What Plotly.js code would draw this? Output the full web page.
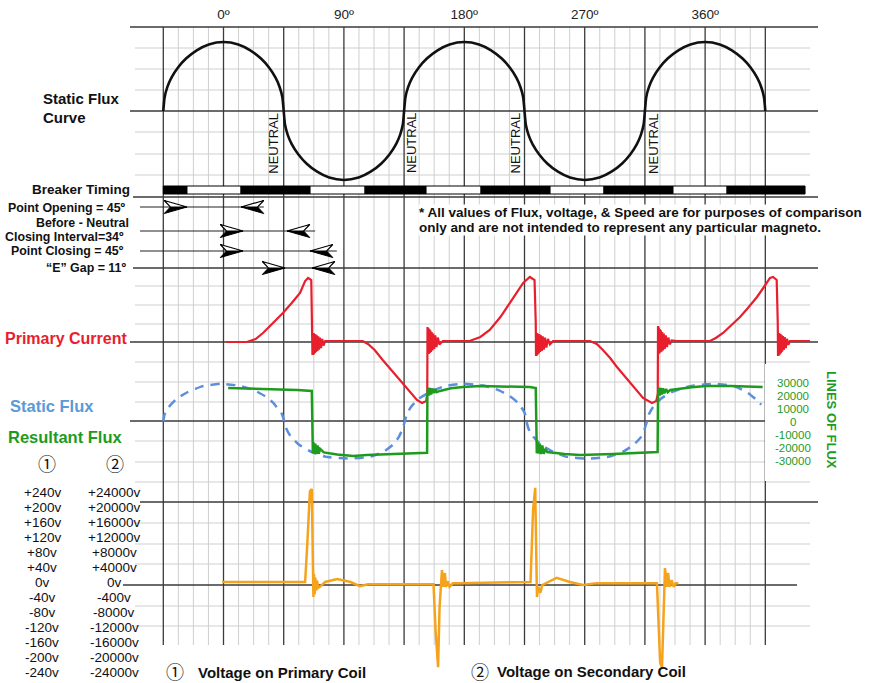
<!DOCTYPE html>
<html><head><meta charset="utf-8">
<script src="https://cdn.plot.ly/plotly-3.0.1.min.js"></script>
<style>html,body{margin:0;padding:0;background:#fff}#chart{width:871px;height:683px}</style>
</head><body><div id="chart"></div>
<script>
// ---------------- DATA ----------------
// x positions are crank degrees
const degTicks = [0, 90, 180, 270, 360];
const degTickText = ["0º", "90º", "180º", "270º", "360º"];

// Static flux curve (top panel, normalised)
const staticAngles = [-45,-44,-42,-39,-34,-28,-20,-11,0,11,20,28,34,39,42,44,
 45,46,48,51,56,62,70,79,90,101,110,118,124,129,132,134,
 135,136,138,141,146,152,160,169,180,191,200,208,214,219,222,224,
 225,226,228,231,236,242,250,259,270,281,290,298,304,309,312,314,
 315,316,318,321,326,332,340,349,360,371,380,388,394,399,402,404,405];
const staticValues = [0,0.2,0.345,0.48,0.63,0.76,0.88,0.965,1,0.965,0.88,0.76,0.63,0.48,0.345,0.2,
 0,-0.2,-0.345,-0.48,-0.63,-0.76,-0.88,-0.965,-1,-0.965,-0.88,-0.76,-0.63,-0.48,-0.345,-0.2,
 0,0.2,0.345,0.48,0.63,0.76,0.88,0.965,1,0.965,0.88,0.76,0.63,0.48,0.345,0.2,
 0,-0.2,-0.345,-0.48,-0.63,-0.76,-0.88,-0.965,-1,-0.965,-0.88,-0.76,-0.63,-0.48,-0.345,-0.2,
 0,0.2,0.345,0.48,0.63,0.76,0.88,0.965,1,0.965,0.88,0.76,0.63,0.48,0.345,0.2,0];
const neutralAngles = [45, 135, 225, 315];

// Breaker timing (segment edges, degrees) and state of each segment
const breakerEdges = [-45,-27.3,13.1,64.7,105.8,151.4,192.5,244.1,284.4,336.0,376.4,434.7];
const breakerState = ["closed","open","closed","open","closed","open","closed","open","closed","open","closed"];

// Timing arrows: right-pointing tip (start) and left-pointing tip (end), degrees
const timingLabels = ["Point Opening = 45º", "Closing Interval=34º", "Point Closing = 45º", "“E” Gap = 11º"];
const timingStart = [-27.3, 14.6, 14.6, 46.0];
const timingEnd = [13.1, 47.5, 64.7, 66.2];

// Primary current (arbitrary units)
const currentAngles = [2,17.5,24,29.5,37,44.4,51,57.2,61,63.2,65.6,66.3,66.5,
 66.8,67.1,67.4,67.7,68.0,68.4,68.8,69.2,69.7,70.2,70.8,71.4,72.1,72.9,73.8,74.8,76,90,104,108,113,119,125.5,132,138,144.6,148.4,151.5,152.3,152.5,
 152.8,153.1,153.4,153.8,154.2,154.6,155.1,155.6,156.2,156.8,157.5,158.3,159.2,160.2,161.4,164,184,192,199,207,214,219,224,229,232.5,233.4,233.6,
 233.9,234.2,234.5,234.9,235.3,235.7,236.2,236.7,237.3,237.9,238.6,239.4,240.3,241.3,242.5,244,246.3,273.9,279,283.6,289,294.1,299,303.8,309,313.6,320.3,323.5,324.6,324.8,
 325.1,325.4,325.7,326.1,326.5,326.9,327.4,327.9,328.5,329.1,329.8,330.6,331.5,332.5,333.7,335,339,363.7,368,373.4,380,386.1,392,398.8,404,408.5,410.8,413.5,414.3,414.5,
 414.8,415.1,415.4,415.8,416.2,416.6,417.1,417.6,418.2,418.8,419.5,420.3,421.2,422.2,423.4,438.4];
const currentValues = [0,0,0.15,0.45,0.95,1.45,1.95,2.45,3.05,3.2,3.1,1.0,-0.65,
 0.45,-0.65,0.45,-0.6,0.4,-0.55,0.38,-0.5,0.33,-0.45,0.28,-0.38,0.22,-0.3,0.15,-0.18,0.05,0.05,0.05,-0.1,-0.4,-0.9,-1.4,-1.9,-2.4,-2.9,-3.05,-2.95,-2.6,0.75,
 -0.6,0.7,-0.6,0.65,-0.55,0.58,-0.5,0.5,-0.42,0.42,-0.35,0.33,-0.25,0.22,-0.12,0.05,0.05,0.25,0.6,1.25,1.95,2.45,2.95,3.25,3.1,1.0,-0.7,
 0.45,-0.68,0.45,-0.62,0.4,-0.56,0.38,-0.5,0.33,-0.45,0.28,-0.38,0.22,-0.28,0.15,-0.12,0.05,0.05,-0.1,-0.4,-0.8,-1.25,-1.65,-2.05,-2.45,-2.8,-3.05,-2.95,-2.6,0.8,
 -0.6,0.72,-0.58,0.65,-0.52,0.58,-0.48,0.5,-0.42,0.42,-0.35,0.33,-0.25,0.22,-0.12,0.08,0.05,0.05,0.2,0.45,0.85,1.25,1.7,2.25,2.75,3.2,3.25,3.1,1.0,-0.7,
 0.45,-0.68,0.45,-0.62,0.4,-0.56,0.36,-0.48,0.3,-0.4,0.24,-0.3,0.16,-0.14,0.05,0.05];

// Static flux (lines of flux, dashed blue)
const staticFluxAngles = [-45,-44,-41,-35,-27,-16,-2,12,23,31,37,41,43.5,45.5,
 47,50,56,64,76,94,110,120,127,131,133.5,135.5,
 137,140,146,154,165,179,195,206,214,220,223.5,225.5,226.5,
 228,231,237,245,256,272,288,299,307,312,314.5,316.5,
 318,321,327,335,348,366,382,392,398,402];
const staticFluxValues = [0,5500,11000,17500,22500,27000,29000,27500,24000,19500,14500,9500,6000,0,
 -5500,-11000,-17500,-22500,-27000,-28500,-27000,-23000,-17500,-12000,-6500,0,
 5500,11000,17500,22500,27000,29000,27500,24000,19500,14500,9500,5500,0,
 -5500,-11000,-17500,-22500,-27000,-28500,-27000,-23000,-17500,-12000,-6500,0,
 5500,11000,17500,22500,27000,29000,27000,22000,17000,13000];

// Resultant flux (lines of flux, green)
const resultAngles = [3.5,30,55,66,66.3,
 66.8,67.3,67.9,68.6,69.4,70.3,71.2,72.2,75,85,97,107,130,149,152.2,152.4,
 153,153.7,154.4,155.2,156,157,158,159.2,161.8,170,179,192,210,229,233.4,233.6,
 234.2,234.9,235.6,236.4,237.3,238.3,239.4,240.6,242,255,266.5,291,324.5,324.8,
 325.4,326.1,326.8,327.6,328.5,329.5,330.8,332,334,350,361,379,403];
const resultValues = [25800,25300,24300,23500,-15000,
 -24500,-16000,-24800,-17000,-25000,-18500,-24800,-21000,-23800,-25300,-26500,-25800,-24900,-24200,-24000,20500,
 26000,20000,25800,20800,25500,21800,25000,22500,23500,25500,26500,27300,27000,26500,25800,-15000,
 -24500,-16000,-24800,-17000,-25000,-18500,-24800,-21000,-23500,-25000,-25800,-25000,-23500,20500,
 26000,20000,25800,20800,25500,21800,25000,22500,24200,26300,27300,27300,26500];
const fluxTicks = [30000,20000,10000,0,-10000,-20000,-30000];

// Voltage (primary coil volts; secondary = x100)
const voltAngles = [-1,30,61,62.5,64.6,66.0,66.8,67.2,
 67.6,68.1,68.6,69.2,69.9,70.7,72,76,85,95,102,108,130,157,158.5,160.4,161.5,163.3,
 164.4,165.5,166.3,167.5,169,171.5,175,229.5,231.4,233.0,234.3,
 235.3,236.8,238.3,249,259,268.7,279,324,326.4,327.8,329,330,
 331.5,332.3,333.5,335,336.5,338,340];
const voltValues = [8,8,8,100,250,256,120,-32,
 30,-25,20,-15,12,-8,-5,8,16,8,-3,2,2,2,-120,-219,-60,40,
 -5,32,-5,10,-5,5,5,8,200,259,-32,
 -5,-21,0,19,8,0,5,5,-208,-219,-50,45,
 -5,32,-5,13,-5,5,5];
const voltTicks = [240,200,160,120,80,40,0,-40,-80,-120,-160,-200,-240];
const primaryLabels = ["+240v","+200v","+160v","+120v","+80v","+40v","0v","-40v","-80v","-120v","-160v","-200v","-240v"];
const secondaryLabels = ["+24000v","+20000v","+16000v","+12000v","+8000v","+4000v","0v","-400v","-8000v","-12000v","-16000v","-20000v","-24000v"];

// ---------------- LAYOUT CONSTANTS ----------------
const W = 871, H = 683;
const X0PX = 223.5, PXPERDEG = 1.3378;
const degAt = px => (px - X0PX) / PXPERDEG;
const fx = px => px / W;
const fy = py => 1 - py / H;
const rangeFor = (zeroPy, pxPerUnit) => [(zeroPy - H) / pxPerUnit, zeroPy / pxPerUnit];
const FONT = "Liberation Sans, Arial, sans-serif";
const CIRC = "Noto Sans CJK JP, DejaVu Sans, sans-serif";
const RED = "#e81e2d", GREEN = "#1e9b1e", BLUE = "#5b8fde", ORANGE = "#f5a31c";

const BAR_PY = 190, BAR_H = 8;
const ROW_PY = [207, 231, 251, 268];
const ARROW_LEN = 17, ARROW_NOTCH = 4.6, ARROW_HALF = 6.5;

// ---------------- TRACES ----------------
const traces = [];
traces.push({x: staticAngles, y: staticValues, xaxis: 'x', yaxis: 'y', mode: 'lines',
  line: {color: '#111', width: 2.6, shape: 'spline', smoothing: 0.6}, hoverinfo: 'skip'});

// breaker timing bar
const bStarts = breakerEdges.slice(0, -1);
const bLens = bStarts.map((s, i) => breakerEdges[i + 1] - s);
traces.push({type: 'bar', orientation: 'h', xaxis: 'x', yaxis: 'y2',
  y: bStarts.map(() => BAR_PY), x: bLens, base: bStarts, width: BAR_H,
  marker: {color: breakerState.map(s => s === 'closed' ? '#000' : '#fff'), line: {color: '#000', width: 1}},
  hoverinfo: 'skip'});

// timing arrows
const upX = [], upY = [], loX = [], loY = [];
function arrow(tip, py, dir) {
  const back = tip - dir * ARROW_LEN, notch = tip - dir * (ARROW_LEN - ARROW_NOTCH);
  upX.push(back, tip, notch, back, null); upY.push(py - ARROW_HALF, py, py, py - ARROW_HALF, null);
  loX.push(notch, tip, back, notch, null); loY.push(py, py, py + ARROW_HALF, py, null);
}
timingStart.forEach((t, i) => arrow(t, ROW_PY[i], 1));
timingEnd.forEach((t, i) => arrow(t, ROW_PY[i], -1));
traces.push({x: loX, y: loY, xaxis: 'x', yaxis: 'y2', mode: 'lines', fill: 'toself', fillcolor: '#000',
  line: {color: '#000', width: 1}, hoverinfo: 'skip'});
traces.push({x: upX, y: upY, xaxis: 'x', yaxis: 'y2', mode: 'lines', fill: 'toself', fillcolor: '#fff',
  line: {color: '#000', width: 1.2}, hoverinfo: 'skip'});

traces.push({x: currentAngles, y: currentValues, xaxis: 'x', yaxis: 'y3', mode: 'lines',
  line: {color: RED, width: 2.2}, hoverinfo: 'skip'});
traces.push({x: staticFluxAngles, y: staticFluxValues, xaxis: 'x', yaxis: 'y4', mode: 'lines',
  line: {color: BLUE, width: 2.5, dash: '9px,7px', shape: 'spline', smoothing: 0.5}, hoverinfo: 'skip'});
traces.push({x: resultAngles, y: resultValues, xaxis: 'x', yaxis: 'y4', mode: 'lines',
  line: {color: GREEN, width: 2.5}, hoverinfo: 'skip'});
traces.push({x: voltAngles, y: voltValues, xaxis: 'x', yaxis: 'y5', mode: 'lines',
  line: {color: ORANGE, width: 2.5}, hoverinfo: 'skip'});

// ---------------- SHAPES (grid) ----------------
const shapes = [];
const MINOR = '#cfcfcf', MAJOR = '#3a3a3a';
const minorH = [48,69,90,132,154,175,286,305,324,362,382,402,441,462,482,523,544,564,606,626];
minorH.forEach(py => shapes.push({type: 'line', xref: 'paper', yref: 'paper', x0: fx(135), x1: fx(810), y0: fy(py), y1: fy(py),
  line: {color: MINOR, width: 1}, layer: 'below'}));
for (let d = -45; d <= 405.01; d += 11.25) {
  const major = Math.abs(d / 45 - Math.round(d / 45)) < 1e-6;
  if (major) continue;
  shapes.push({type: 'line', xref: 'x', yref: 'paper', x0: d, x1: d, y0: fy(27), y1: fy(645),
    line: {color: MINOR, width: 1}, layer: 'below'});
}
const majorH = [[27,130,818],[111,130,818],[197,133,818],[268,133,818],[342,130,818],[421,130,818],[502,140,818],[585,123,797]];
majorH.forEach(([py, a, b]) => shapes.push({type: 'line', xref: 'paper', yref: 'paper', x0: fx(a), x1: fx(b), y0: fy(py), y1: fy(py),
  line: {color: MAJOR, width: 1.3}, layer: 'below'}));
for (let d = -45; d <= 405; d += 45) {
  shapes.push({type: 'line', xref: 'x', yref: 'paper', x0: d, x1: d, y0: fy(27), y1: fy(645),
    line: {color: MAJOR, width: 1.3}, layer: 'below'});
}
// timing row guide lines
[[140, timingEnd[0] + 17], [140, timingEnd[1] + 21], [140, timingEnd[2] + 20]].forEach(([a, dEnd], i) =>
  shapes.push({type: 'line', xref: 'x', yref: 'paper', x0: degAt(a), x1: dEnd, y0: fy(ROW_PY[i]), y1: fy(ROW_PY[i]),
    line: {color: '#222', width: 1.2}, layer: 'below'}));
// white box behind the flux scale
shapes.push({type: 'rect', xref: 'paper', yref: 'paper', x0: fx(765), x1: fx(866), y0: fy(364), y1: fy(481),
  fillcolor: '#fff', line: {width: 0}, layer: 'below'});

// ---------------- ANNOTATIONS ----------------
const ann = [];
function txt(text, px, py, o) {
  ann.push(Object.assign({text: text, xref: 'paper', yref: 'paper', x: fx(px), y: fy(py), showarrow: false,
    xanchor: 'left', yanchor: 'middle', font: {family: FONT, size: 13, color: '#111'}}, o || {}));
}
const B = s => '<b>' + s + '</b>';
const TF = {family: FONT, size: 12.4, color: '#111'};
txt(B('Static Flux'), 41, 99, {font: {family: FONT, size: 15, color: '#111'}});
txt(B('Curve'), 41, 117, {font: {family: FONT, size: 15, color: '#111'}});
txt(B('Breaker Timing'), 132, 190, {xanchor: 'right', font: {family: FONT, size: 13.5, color: '#111'}});
txt(B(timingLabels[0]), 127, 207.5, {xanchor: 'right', borderpad: 0, font: TF});
txt(B('Before - Neutral'), 130, 222.5, {xanchor: 'right', borderpad: 0, font: TF});
txt(B(timingLabels[1]), 125, 237, {xanchor: 'right', borderpad: 0, font: TF});
txt(B(timingLabels[2]), 125, 250.5, {xanchor: 'right', borderpad: 0, font: TF});
txt(B(timingLabels[3]), 127, 268, {xanchor: 'right', borderpad: 0, font: TF});
txt(B('* All values of Flux, voltage, &amp; Speed are for purposes of comparison'),
  418, 212, {bgcolor: '#fff', borderpad: 0, font: {family: FONT, size: 13.5, color: '#111'}});
txt(B('only and are not intended to represent any particular magneto.'),
  418, 227.5, {bgcolor: '#fff', borderpad: 0, font: {family: FONT, size: 13.5, color: '#111'}});
txt(B('Primary Current'), 129, 338, {xanchor: 'right', font: {family: FONT, size: 16, color: RED}});
txt(B('Static Flux'), 8, 406, {font: {family: FONT, size: 16.5, color: '#5a9ad8'}});
txt(B('Resultant Flux'), 6, 437, {font: {family: FONT, size: 16.5, color: GREEN}});
txt('①', 47, 463, {xanchor: 'center', font: {family: CIRC, size: 18, color: '#111'}});
txt('②', 115, 463, {xanchor: 'center', font: {family: CIRC, size: 18, color: '#111'}});
txt('①', 175, 671, {xanchor: 'center', font: {family: CIRC, size: 18, color: '#111'}});
txt(B('Voltage on Primary Coil'), 196, 672, {font: {family: FONT, size: 15, color: '#111'}});
txt('②', 480, 671, {xanchor: 'center', font: {family: CIRC, size: 18, color: '#111'}});
txt(B('Voltage on Secondary Coil'), 495, 671, {font: {family: FONT, size: 15, color: '#111'}});
txt(B('LINES OF FLUX'), 832, 420, {xanchor: 'center', textangle: 90, font: {family: FONT, size: 13, color: GREEN}});
const neutralShift = [-10, 8, -9, 9];
neutralAngles.forEach((a, i) => ann.push({text: 'NEUTRAL', xref: 'x', yref: 'paper', x: a, y: fy(143), xshift: neutralShift[i],
  textangle: -90, showarrow: false, xanchor: 'center', yanchor: 'middle', font: {family: FONT, size: 13, color: '#111'}}));
fluxTicks.forEach(v => ann.push({text: String(v), xref: 'paper', yref: 'y4', x: fx(793), y: v, showarrow: false,
  xanchor: 'center', yanchor: 'middle', font: {family: FONT, size: 11.5, color: GREEN}}));
voltTicks.forEach((v, i) => {
  ann.push({text: primaryLabels[i], xref: 'paper', yref: 'y5', x: fx(42), y: v, yshift: 3, showarrow: false,
    xanchor: 'center', yanchor: 'middle', font: {family: FONT, size: 13.5, color: '#111'}});
  ann.push({text: secondaryLabels[i], xref: 'paper', yref: 'y5', x: fx(114), y: v, yshift: 3, showarrow: false,
    xanchor: 'center', yanchor: 'middle', font: {family: FONT, size: 13.5, color: '#111'}});
});

const hidden = {visible: false, fixedrange: true};
const layout = {
  width: W, height: H, margin: {l: 0, r: 0, t: 0, b: 0},
  paper_bgcolor: '#fff', plot_bgcolor: 'rgba(0,0,0,0)', showlegend: false,
  xaxis: {domain: [0, 1], range: [degAt(0), degAt(W)], anchor: 'free', position: fy(27), side: 'top',
    tickmode: 'array', tickvals: degTicks, ticktext: degTickText, ticks: '', ticklabelstandoff: 5,
    showgrid: false, zeroline: false, showline: false, tickfont: {family: FONT, size: 13.5, color: '#222'}},
  yaxis: Object.assign({range: rangeFor(111, 69)}, hidden),
  yaxis2: Object.assign({range: [H, 0], overlaying: 'y'}, hidden),
  yaxis3: Object.assign({range: rangeFor(342, 20), overlaying: 'y'}, hidden),
  yaxis4: Object.assign({range: rangeFor(421.5, 0.0013), overlaying: 'y'}, hidden),
  yaxis5: Object.assign({range: rangeFor(585, 15 / 40), overlaying: 'y'}, hidden),
  shapes: shapes, annotations: ann
};
Plotly.newPlot('chart', traces, layout, {displayModeBar: false, staticPlot: true});
</script></body></html>
